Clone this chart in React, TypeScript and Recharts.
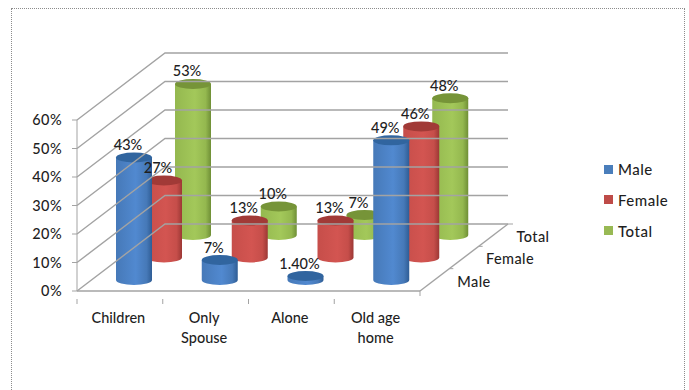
import { BarChart, Bar, XAxis, YAxis, ReferenceLine, LabelList, Text } from "recharts";

const categories = ["Children", "Only Spouse", "Alone", "Old age home"];
const male = [43, 7, 1.4, 49];
const female = [27, 13, 13, 46];
const total = [53, 10, 7, 48];
const yTicks = [0, 10, 20, 30, 40, 50, 60];
const seriesNames = ["Male", "Female", "Total"];

const data = categories.map((name, i) => ({
  name,
  Male: male[i],
  Female: female[i],
  Total: total[i],
}));

const FONT = "Lato, sans-serif";
const FONT_WEIGHT = 500;
const TEXT_COLOR = "#1f1f1f";
const GRID_COLOR = "#a3a3a3";

// fake 3D: how far the back wall sits from the front axis
const WALL_DX = 88;
const WALL_DY = -67;
const BAND = 85.75;
const CYL_W = 36;
const CYL_RY = 5;

const looks: Record<string, any> = {
  Male: { id: "cylMale", dx: 14, dy: -11, swatch: "#4a7ebb", cap: "#31659f", edge: "#2f5d95", mid: "#5189d0", light: "#4679b8" },
  Female: { id: "cylFemale", dx: 44, dy: -33.5, swatch: "#be4b48", cap: "#a13a37", edge: "#9c3835", mid: "#d35551", light: "#c64e4a" },
  Total: { id: "cylTotal", dx: 73, dy: -56, swatch: "#98b954", cap: "#769438", edge: "#6f8f36", mid: "#a3c85a", light: "#94b84f" },
};

function Cylinder(props: any) {
  const { x, y, width, height, seriesName } = props;
  const look = looks[seriesName];
  const cx = x + width / 2 + look.dx;
  const top = y + look.dy;
  const bottom = y + height + look.dy;
  const rx = CYL_W / 2;
  return (
    <g>
      <path
        d={`M${cx - rx},${top} L${cx - rx},${bottom} A${rx},${CYL_RY} 0 0 0 ${cx + rx},${bottom} L${cx + rx},${top} Z`}
        fill={`url(#${look.id})`}
      />
      <ellipse cx={cx} cy={top} rx={rx} ry={CYL_RY} fill={look.cap} />
    </g>
  );
}

function formatPercent(v: number) {
  return Number.isInteger(v) ? `${v}%` : `${v.toFixed(2)}%`;
}

function valueLabel(seriesName: string) {
  return (p: any) => {
    const look = looks[seriesName];
    return (
      <text
        x={p.x + p.width / 2 + look.dx - 6}
        y={p.y + look.dy - 13}
        textAnchor="middle"
        dominantBaseline="central"
        fontFamily={FONT}
        fontWeight={FONT_WEIGHT}
        fontSize={14.5}
        fill={TEXT_COLOR}
      >
        {formatPercent(p.value)}
      </text>
    );
  };
}

// one gridline: along the left wall, then across the back wall
function WallLine(props: any) {
  const { x1, y1, x2 } = props;
  const backY = y1 + WALL_DY;
  return (
    <polyline
      points={`${x1},${y1} ${x1 + WALL_DX},${backY} ${x2 + WALL_DX},${backY}`}
      fill="none"
      stroke={GRID_COLOR}
      strokeWidth={1.4}
    />
  );
}

// floor edges, the depth ticks and the series names along the depth axis
function Floor(props: any) {
  const { x1, y1, x2 } = props;
  const depthLabels = [
    { text: "Male", x: x2 + 54, y: y1 - 10 },
    { text: "Female", x: x2 + 90, y: y1 - 33 },
    { text: "Total", x: x2 + 113, y: y1 - 55 },
  ];
  return (
    <g>
      <WallLine {...props} />
      <line x1={x1} y1={y1} x2={x2} y2={y1} stroke={GRID_COLOR} strokeWidth={1.4} />
      <line x1={x2} y1={y1} x2={x2 + WALL_DX} y2={y1 + WALL_DY} stroke={GRID_COLOR} strokeWidth={1.4} />
      <line x1={x2} y1={y1} x2={x2} y2={y1 + 5} stroke={GRID_COLOR} />
      {[1, 2].map((n) => (
        <line
          key={n}
          x1={x2 + (WALL_DX * n) / 3}
          y1={y1 + (WALL_DY * n) / 3}
          x2={x2 + (WALL_DX * n) / 3 + 4}
          y2={y1 + (WALL_DY * n) / 3}
          stroke={GRID_COLOR}
        />
      ))}
      <line x1={x2 + WALL_DX} y1={y1 + WALL_DY} x2={x2 + WALL_DX + 5} y2={y1 + WALL_DY} stroke={GRID_COLOR} />
      {depthLabels.map((d) => (
        <text
          key={d.text}
          x={d.x}
          y={d.y}
          textAnchor="middle"
          dominantBaseline="central"
          fontFamily={FONT}
          fontWeight={FONT_WEIGHT}
          fontSize={14.5}
          letterSpacing={0.4}
          fill={TEXT_COLOR}
        >
          {d.text}
        </text>
      ))}
    </g>
  );
}

function CategoryTick(props: any) {
  const { x, y, payload } = props;
  return (
    <g>
      <line x1={x - BAND / 2} y1={y} x2={x - BAND / 2} y2={y + 5} stroke={GRID_COLOR} />
      <Text
        x={x - 1.5}
        y={y + 14}
        width={62}
        textAnchor="middle"
        verticalAnchor="start"
        lineHeight={20}
        fontFamily={FONT}
        fontWeight={FONT_WEIGHT}
        fontSize={14.5}
        fill={TEXT_COLOR}
      >
        {payload.value}
      </Text>
    </g>
  );
}

export default function App() {
  return (
    <div style={{ position: "absolute", left: 0, top: 0, width: 689, height: 390, overflow: "hidden", background: "#fff" }}>
      <div
        style={{
          position: "absolute",
          left: 11,
          top: 8,
          width: 672,
          height: 420,
          border: "1px dotted #8c8c8c",
        }}
      />
      <div style={{ position: "absolute", left: 0, top: 0 }}>
        <BarChart
          width={689}
          height={390}
          data={data}
          margin={{ top: 120, right: 269, bottom: 0, left: 0 }}
          barSize={CYL_W}
          barGap={-CYL_W}
        >
          <defs>
            {seriesNames.map((s) => (
              <linearGradient key={s} id={looks[s].id} x1="0" y1="0" x2="1" y2="0">
                <stop offset="0" stopColor={looks[s].light} />
                <stop offset="0.55" stopColor={looks[s].mid} />
                <stop offset="0.85" stopColor={looks[s].light} />
                <stop offset="1" stopColor={looks[s].edge} />
              </linearGradient>
            ))}
          </defs>
          <XAxis
            dataKey="name"
            height={99}
            axisLine={false}
            tickLine={false}
            tick={<CategoryTick />}
            interval={0}
          />
          <YAxis
            width={77}
            domain={[0, 60]}
            ticks={yTicks}
            tickFormatter={(v: number) => `${v}%`}
            stroke={GRID_COLOR}
            tickSize={5}
            tickMargin={10}
            tick={{ fontFamily: FONT, fontWeight: FONT_WEIGHT, fontSize: 14.5, fill: TEXT_COLOR, letterSpacing: 0.4 }}
          />
          {yTicks.map((t) => (
            <ReferenceLine key={t} y={t} shape={t === 0 ? <Floor /> : <WallLine />} />
          ))}
          <Bar dataKey="Total" isAnimationActive={false} shape={<Cylinder seriesName="Total" />}>
            <LabelList dataKey="Total" content={valueLabel("Total")} />
          </Bar>
          <Bar dataKey="Female" isAnimationActive={false} shape={<Cylinder seriesName="Female" />}>
            <LabelList dataKey="Female" content={valueLabel("Female")} />
          </Bar>
          <Bar dataKey="Male" isAnimationActive={false} shape={<Cylinder seriesName="Male" />}>
            <LabelList dataKey="Male" content={valueLabel("Male")} />
          </Bar>
        </BarChart>
      </div>
      {seriesNames.map((s, i) => (
        <div key={s} style={{ position: "absolute", left: 604, top: 160 + i * 30.8, height: 18, display: "flex", alignItems: "center" }}>
          <span style={{ width: 9, height: 9, background: looks[s].swatch, marginRight: 5 }} />
          <span style={{ fontFamily: FONT, fontWeight: FONT_WEIGHT, fontSize: 15, letterSpacing: 0.5, color: TEXT_COLOR }}>{s}</span>
        </div>
      ))}
    </div>
  );
}
